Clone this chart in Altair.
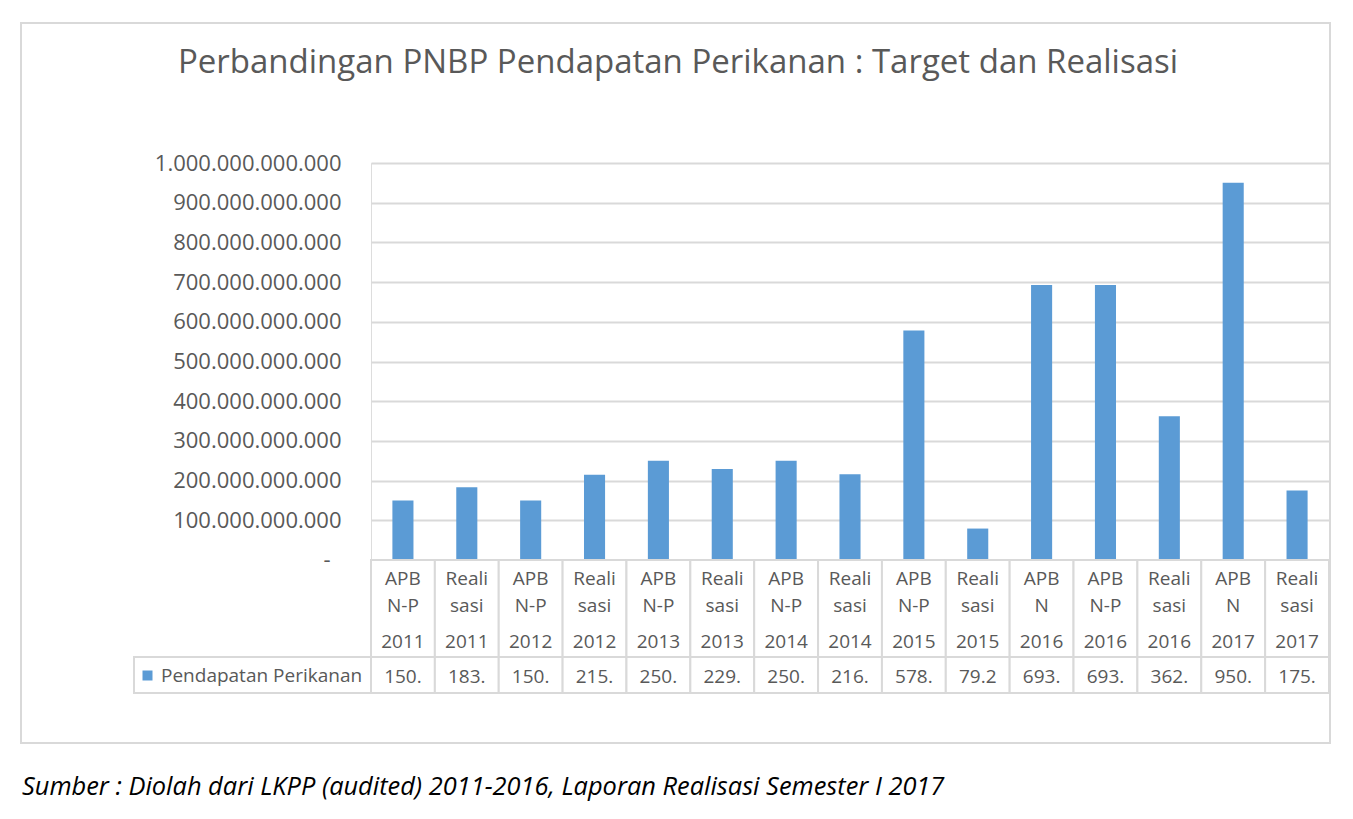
import altair as alt
import pandas as pd

# ---- data ----
line1 = ["APB", "Reali", "APB", "Reali", "APB", "Reali", "APB", "Reali",
         "APB", "Reali", "APB", "APB", "Reali", "APB", "Reali"]
line2 = ["N-P", "sasi", "N-P", "sasi", "N-P", "sasi", "N-P", "sasi",
         "N-P", "sasi", "N", "N-P", "sasi", "N", "sasi"]
years = ["2011", "2011", "2012", "2012", "2013", "2013", "2014", "2014",
         "2015", "2015", "2016", "2016", "2016", "2017", "2017"]
values_bn = [150, 183, 150, 215, 250, 229, 250, 216, 578, 79.2, 693, 693, 362, 950, 175]
series_name = "Pendapatan Perikanan"
y_ticks = [0, 100e9, 200e9, 300e9, 400e9, 500e9, 600e9, 700e9, 800e9, 900e9, 1000e9]
zero_label = "-"
title_text = "Perbandingan PNBP Pendapatan Perikanan : Target dan Realisasi"
source_text = "Sumber : Diolah dari LKPP (audited) 2011-2016, Laporan Realisasi Semester I 2017"

keys = [f"{a} {b} {y}" for a, b, y in zip(line1, line2, years)]
df = pd.DataFrame({
    "k": keys, "l1": line1, "l2": line2, "yr": years,
    "value": [v * 1e9 for v in values_bn],
    "series": series_name,
})
note_df = pd.DataFrame({"note": [source_text]})
zero_df = pd.DataFrame({"value": [y_ticks[0]], "lab": [zero_label]})

W, H = 958, 397
GRAY = "#595959"
LINE = "#D9D9D9"
BLUE = "#5B9BD5"
FONT = "Open Sans"

x_enc = alt.X("k:N", scale=alt.Scale(domain=keys, paddingInner=0, paddingOuter=0), axis=None)

label_expr = ("datum.value == 0 ? '' : "
              "replace(format(datum.value, ',.0f'), regexp(',', 'g'), '.')")
y_axis = alt.Axis(values=y_ticks, title=None, domain=False, ticks=False,
                  labelPadding=30, labelFontSize=22, labelColor=GRAY,
                  labelFont=FONT, labelLimit=400, gridColor=LINE, gridWidth=2,
                  labelExpr=label_expr)
y_scale = alt.Scale(domain=[0, 1e12], nice=False)
y_enc = alt.Y("value:Q", scale=y_scale, axis=y_axis)

base = alt.Chart(df)

frame = alt.Chart(note_df).mark_rect(fillOpacity=0, stroke=LINE, strokeWidth=2).encode(
    x=alt.value(-350), x2=alt.value(959), y=alt.value(-140), y2=alt.value(580)
)

bars = base.mark_bar(width=alt.RelativeBandSize(0.33)).encode(
    x=x_enc,
    y=y_enc,
    color=alt.Color("series:N", scale=alt.Scale(range=[BLUE]),
                    legend=alt.Legend(title=None, orient="none", legendX=-233, legendY=503,
                                      symbolType="square", symbolSize=100, symbolStrokeWidth=0,
                                      labelFontSize=19, labelColor=GRAY, labelFont=FONT,
                                      labelLimit=400, labelOffset=4, padding=0)),
)

zero_mark = alt.Chart(zero_df).mark_text(fontSize=22, color=GRAY, font=FONT,
                                         baseline="middle").encode(
    x=alt.value(-44), y=y_enc, text="lab:N"
)

head_cells = base.mark_rect(fill="white", stroke=LINE, strokeWidth=2).encode(
    x=x_enc, y=alt.value(397), y2=alt.value(494)
)
val_cells = base.mark_rect(fill="white", stroke=LINE, strokeWidth=2).encode(
    x=x_enc, y=alt.value(494), y2=alt.value(530)
)
legend_cell = alt.Chart(note_df).mark_rect(fill="white", stroke=LINE, strokeWidth=2).encode(
    x=alt.value(-237), x2=alt.value(0), y=alt.value(494), y2=alt.value(530)
)

def row_text(field, ypix):
    return base.mark_text(fontSize=19, color=GRAY, font=FONT, baseline="alphabetic").encode(
        x=x_enc, y=alt.value(ypix), text=f"{field}:N"
    )

t1 = row_text("l1", 422)
t2 = row_text("l2", 449)
t3 = row_text("yr", 485)
tv = base.transform_calculate(
    lab="substring(replace(format(datum.value, ','), regexp(',', 'g'), '.'), 0, 4)"
).mark_text(fontSize=19, color=GRAY, font=FONT, baseline="alphabetic").encode(
    x=x_enc, y=alt.value(520), text="lab:N"
)

note = alt.Chart(note_df).mark_text(align="left", baseline="alphabetic", fontSize=25.4,
                                    fontStyle="italic", color="#000000", font=FONT).encode(
    x=alt.value(-349), y=alt.value(632), text="note:N"
)

chart = alt.layer(
    frame, bars, zero_mark, head_cells, val_cells, legend_cell, t1, t2, t3, tv, note
).properties(
    width=W, height=H,
    padding={"left": 363, "top": 155, "right": 16, "bottom": 250},
    autosize=alt.AutoSizeParams(type="none"),
    title=alt.TitleParams(text=title_text, fontSize=33, font=FONT, color=GRAY,
                          fontWeight="normal", anchor="middle", frame="group",
                          baseline="alphabetic", offset=-84, dx=-172),
).configure_view(strokeWidth=0).configure(font=FONT)

chart.save("out.html", embed_options={"renderer": "svg", "actions": False})
